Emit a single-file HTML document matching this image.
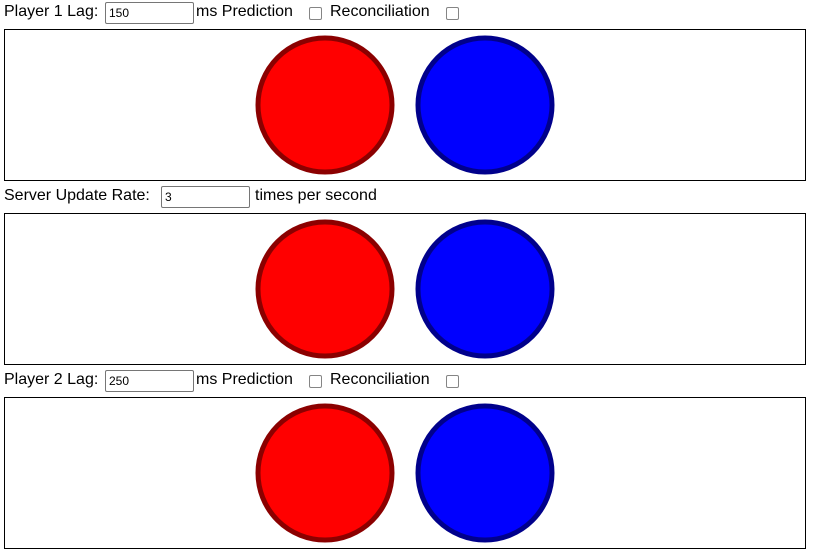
<!DOCTYPE html>
<html><head><meta charset="utf-8"><style>
body{margin:0;width:819px;height:557px;background:#fff;font-family:"Liberation Sans",sans-serif;font-size:16px;color:#000;position:relative;overflow:hidden}
.t{position:absolute;white-space:nowrap;line-height:20px}
.in{position:absolute;width:86px;height:20px;border:1px solid #767676;border-radius:2px;box-sizing:content-box;font-size:12px;line-height:20px;padding-left:3px;box-sizing:border-box;width:89px;height:22px}
.cb{position:absolute;width:13px;height:13px;border:1px solid #858585;border-radius:2px;box-sizing:border-box}
.cv{position:absolute;left:4px;width:802px;height:152px;border:1px solid #000;box-sizing:border-box}
</style></head><body>
<div class="t" style="left:4px;top:2px">Player 1 Lag:</div>
<div class="in" style="left:105px;top:2px">150</div>
<div class="t" style="left:196px;top:2px">ms Prediction</div>
<div class="cb" style="left:309px;top:7px"></div>
<div class="t" style="left:330px;top:2px">Reconciliation</div>
<div class="cb" style="left:446px;top:7px"></div>

<div class="cv" style="top:29px"></div>

<div class="t" style="left:4px;top:186px">Server Update Rate:</div>
<div class="in" style="left:161px;top:186px">3</div>
<div class="t" style="left:255px;top:186px">times per second</div>

<div class="cv" style="top:213px"></div>

<div class="t" style="left:4px;top:370px">Player 2 Lag:</div>
<div class="in" style="left:105px;top:370px">250</div>
<div class="t" style="left:196px;top:370px">ms Prediction</div>
<div class="cb" style="left:309px;top:375px"></div>
<div class="t" style="left:330px;top:370px">Reconciliation</div>
<div class="cb" style="left:446px;top:375px"></div>

<div class="cv" style="top:397px"></div>

<svg id="s" width="819" height="557" style="position:absolute;left:0;top:0"></svg>
<script>
const canvasTops=[29,213,397];
const redX=[325,325,325];
const blueX=[485,485,485];
const s=document.getElementById('s');
function circ(cx,cy,fill,stroke,name){
  const c=document.createElementNS('http://www.w3.org/2000/svg','circle');
  c.setAttribute('cx',cx);c.setAttribute('cy',cy);c.setAttribute('r',67);
  c.setAttribute('fill',fill);c.setAttribute('stroke',stroke);c.setAttribute('stroke-width',5);
  
  
  s.appendChild(c);
}
canvasTops.forEach((t,i)=>{
  circ(redX[i],t+76,'#ff0000','#8b0000','red-player-'+(i+1));
  circ(blueX[i],t+76,'#0000ff','#00008b','blue-player-'+(i+1));
});
</script>
</body></html>
